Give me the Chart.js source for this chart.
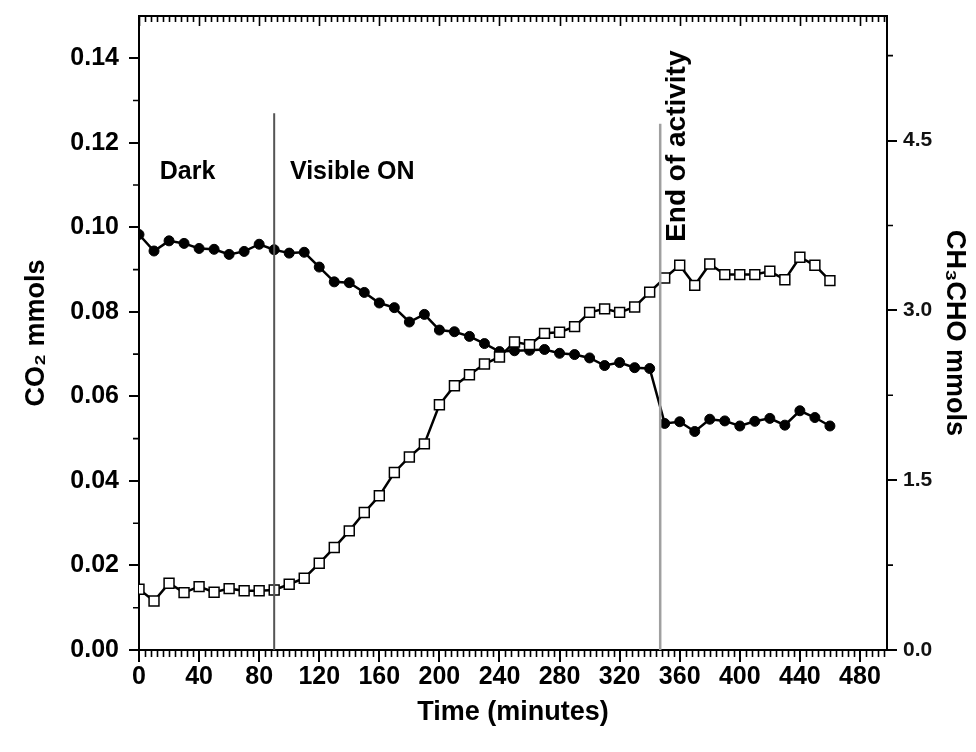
<!DOCTYPE html>
<html>
<head>
<meta charset="utf-8">
<script src="https://cdn.jsdelivr.net/npm/chart.js@4.4.1/dist/chart.umd.min.js"></script>
<style>
  body { margin: 0; background: #fff; }
  #wrap { width: 976px; height: 752px; }
</style>
</head>
<body>
<div id="wrap"><canvas id="grafico"></canvas></div>
<script>
// 🔥 Datos
const tiempos = [0, 10, 20, 30, 40, 50, 60, 70, 80, 90, 100, 110, 120, 130, 140, 150,
  160, 170, 180, 190, 200, 210, 220, 230, 240, 250, 260, 270, 280, 290, 300, 310,
  320, 330, 340, 350, 360, 370, 380, 390, 400, 410, 420, 430, 440, 450, 460];

const co2 = [0.0983, 0.0944, 0.0968, 0.0962, 0.0950, 0.0948, 0.0936, 0.0943, 0.0960, 0.0947,
  0.0939, 0.0941, 0.0906, 0.0871, 0.0869, 0.0846, 0.0821, 0.0810, 0.0776, 0.0794,
  0.0757, 0.0753, 0.0742, 0.0725, 0.0706, 0.0708, 0.0709, 0.0711, 0.0702, 0.0699,
  0.0691, 0.0673, 0.0680, 0.0668, 0.0666, 0.0536, 0.0540, 0.0517, 0.0546, 0.0542,
  0.0530, 0.0541, 0.0548, 0.0532, 0.0566, 0.0550, 0.0530];

const acetaldehido = [0.537, 0.433, 0.590, 0.507, 0.560, 0.510, 0.542, 0.524, 0.524, 0.530,
  0.581, 0.634, 0.766, 0.905, 1.052, 1.214, 1.362, 1.568, 1.705, 1.821,
  2.166, 2.334, 2.431, 2.526, 2.588, 2.720, 2.697, 2.797, 2.807, 2.856,
  2.982, 3.013, 2.982, 3.030, 3.161, 3.286, 3.398, 3.221, 3.410, 3.316,
  3.316, 3.316, 3.345, 3.271, 3.469, 3.398, 3.263];

const ticksTiempo = [0, 40, 80, 120, 160, 200, 240, 280, 320, 360, 400, 440, 480];
const ticksCo2 = [0, 0.02, 0.04, 0.06, 0.08, 0.10, 0.12, 0.14];
const ticksCh3 = [0, 1.5, 3.0, 4.5];

// líneas verticales: encendido de luz y fin de actividad
const eventos = [90, 347];
const alturaEventos = [0.127, 0.1245];

const fuente = "'Liberation Sans', Arial, sans-serif";

// 🔥 Marcas menores y eje superior
const marcasMenores = {
  id: "marcasMenores",
  afterDraw(chart) {
    const { ctx, chartArea: a, scales } = chart;
    ctx.save();
    ctx.strokeStyle = "#000";
    ctx.lineWidth = 2;
    ctx.beginPath();
    ctx.moveTo(a.left - 1, a.top);
    ctx.lineTo(a.right + 1, a.top);
    ctx.stroke();

    ctx.lineWidth = 1.6;
    ctx.beginPath();
    for (let i = 0; i <= 124; i++) {
      const x = Math.round(scales.x.getPixelForValue(i * 4)) + 0.5;
      const mayor = i % 10 === 0;
      ctx.moveTo(x, a.top);
      ctx.lineTo(x, a.top + (mayor ? 10 : 6));
      if (!mayor) {
        ctx.moveTo(x, a.bottom);
        ctx.lineTo(x, a.bottom + 7);
      }
    }
    for (let i = 1; i < 15; i += 2) {
      const y = scales.y.getPixelForValue(i * 0.01);
      ctx.moveTo(a.left, y);
      ctx.lineTo(a.left - 6, y);
    }
    for (let i = 1; i < 8; i += 2) {
      const y = scales.y2.getPixelForValue(i * 0.75);
      ctx.moveTo(a.right, y);
      ctx.lineTo(a.right + 6, y);
    }
    ctx.stroke();
    ctx.restore();
  }
};

// 🔥 Textos dentro del gráfico
const notas = {
  id: "notas",
  afterDatasetsDraw(chart) {
    const { ctx, scales } = chart;
    const x = scales.x, y = scales.y;
    ctx.save();
    ctx.fillStyle = "#000";
    ctx.font = "bold 25px " + fuente;
    ctx.textAlign = "left";
    ctx.textBaseline = "middle";
    ctx.fillText("Dark", x.getPixelForValue(13.8), y.getPixelForValue(0.1131));
    ctx.fillText("Visible ON", x.getPixelForValue(100.5), y.getPixelForValue(0.1131));

    ctx.translate(x.getPixelForValue(358.5), y.getPixelForValue(0.1192));
    ctx.rotate(-Math.PI / 2);
    ctx.font = "bold 28px " + fuente;
    ctx.textAlign = "center";
    ctx.fillText("End of activity", 0, 0);
    ctx.restore();
  }
};

const canvas = document.getElementById("grafico");

const datosEventos = eventos.map((t, i) => ({
  data: [{ x: t, y: 0 }, { x: t, y: alturaEventos[i] }],
  borderColor: i === 0 ? "#555" : "#a0a0a0",
  borderWidth: i === 0 ? 2 : 2.5,
  pointRadius: 0,
  yAxisID: "y",
  order: 0
}));

// quitar el relleno automático que Chart.js deja para las etiquetas
const sinRelleno = s => {
  s.paddingTop = 0;
  s.paddingBottom = 0;
  s.paddingLeft = 0;
  s.paddingRight = 0;
};

new Chart(canvas, {
  type: "line",
  data: {
    datasets: [
      {
        label: "CO2",
        data: tiempos.map((t, i) => ({ x: t, y: co2[i] })),
        borderColor: "#000",
        borderWidth: 2.5,
        pointStyle: "circle",
        pointRadius: 5,
        pointBackgroundColor: "#000",
        pointBorderColor: "#000",
        pointBorderWidth: 1,
        yAxisID: "y",
        order: 2
      },
      {
        label: "CH3CHO",
        data: tiempos.map((t, i) => ({ x: t, y: acetaldehido[i] })),
        borderColor: "#000",
        borderWidth: 2.5,
        pointStyle: "rect",
        pointRadius: 7,
        pointBackgroundColor: "#fff",
        pointBorderColor: "#000",
        pointBorderWidth: 1.5,
        yAxisID: "y2",
        order: 1
      },
      ...datosEventos
    ]
  },
  options: {
    responsive: true,
    maintainAspectRatio: false,
    animation: false,
    layout: { padding: { top: 16, left: 0, right: 0, bottom: 0 } },
    plugins: {
      legend: { display: false },
      tooltip: { enabled: false }
    },
    scales: {
      x: {
        type: "linear",
        min: 0,
        max: 498,
        afterBuildTicks: s => { s.ticks = ticksTiempo.map(v => ({ value: v })); },
        afterFit: s => { s.height = 102; sinRelleno(s); },
        ticks: {
          color: "#000",
          padding: 0,
          autoSkip: false,
          maxRotation: 0,
          font: { family: fuente, size: 25, weight: "bold" }
        },
        grid: { drawOnChartArea: false, tickLength: 12, color: "#000", lineWidth: 2 },
        border: { color: "#000", width: 2 },
        title: {
          display: true,
          text: "Time (minutes)",
          color: "#000",
          font: { family: fuente, size: 27, weight: "bold" },
          padding: { top: 0, bottom: 23 }
        }
      },
      y: {
        position: "left",
        min: 0,
        max: 0.15,
        afterBuildTicks: s => { s.ticks = ticksCo2.map(v => ({ value: v })); },
        afterFit: s => { s.width = 139; sinRelleno(s); },
        ticks: {
          color: "#000",
          padding: 10,
          callback: v => v.toFixed(2),
          font: { family: fuente, size: 25, weight: "bold" }
        },
        grid: { drawOnChartArea: false, tickLength: 10, color: "#000", lineWidth: 2 },
        border: { color: "#000", width: 2 },
        title: {
          display: true,
          text: "CO₂ mmols",
          color: "#000",
          font: { family: fuente, size: 27, weight: "bold" },
          padding: { top: 20, bottom: 0 }
        }
      },
      y2: {
        position: "right",
        min: 0,
        max: 5.6,
        afterBuildTicks: s => { s.ticks = ticksCh3.map(v => ({ value: v })); },
        afterFit: s => { s.width = 89; sinRelleno(s); },
        ticks: {
          color: "#111",
          padding: 6,
          callback: v => v.toFixed(1),
          font: { family: fuente, size: 21, weight: "bold" }
        },
        grid: { drawOnChartArea: false, tickLength: 10, color: "#000", lineWidth: 2 },
        border: { color: "#000", width: 2 },
        title: {
          display: true,
          text: "CH₃CHO mmols",
          color: "#000",
          font: { family: fuente, size: 27, weight: "bold" },
          padding: { top: 5, bottom: 0 }
        }
      }
    }
  },
  plugins: [marcasMenores, notas]
});
</script>
</body>
</html>
